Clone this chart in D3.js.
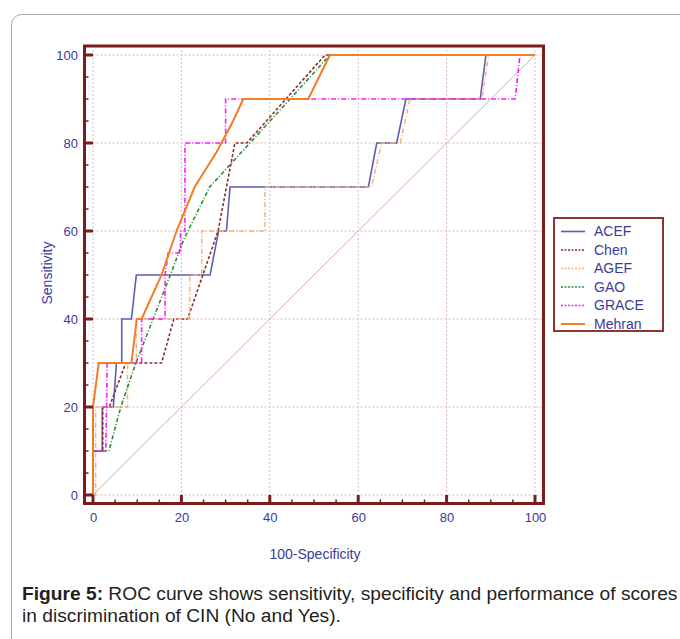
<!DOCTYPE html>
<html>
<head>
<meta charset="utf-8">
<script src="https://cdn.jsdelivr.net/npm/d3@7"></script>
<style>
  body { margin: 0; background: #fff; }
  svg { display: block; }
</style>
</head>
<body>
<div id="chart-container"></div>
<script>
// ROC curves, one array of [100-specificity, sensitivity] pairs per score
const acef   = [[0,0],[0,10],[2.1,10],[2.1,20],[4.6,20],[5.3,30],[6.5,30],[6.5,40],[8.7,40],[9.8,50],[26.5,50],[28.4,60],[30.2,60],[31,70],[62.3,70],[64.2,80],[68.7,80],[70.8,90],[87.6,90],[88.9,100],[100,100]];
const chen   = [[0,0],[0,10],[2.2,10],[2.2,20],[3.7,20],[7.4,30],[15.5,30],[18.3,40],[21.4,40],[28.3,60],[32.1,80],[34.8,80],[52.5,100],[100,100]];
const agef   = [[0,0],[0.6,0],[0.6,20],[7.8,20],[7.8,30],[9.8,30],[9.8,40],[21.9,40],[21.9,50],[24.6,50],[24.6,60],[38.9,60],[38.9,70],[63,70],[65.3,80],[69.5,80],[71.7,90],[88,90],[89.5,100],[100,100]];
const gao    = [[0,0],[0,10],[3.6,10],[6.3,20],[9.7,30],[13.6,40],[17.5,50],[20.5,58],[26.4,70],[35.5,80],[44.6,90],[53.6,100],[100,100]];
const grace  = [[0,0],[0,10],[2.9,10],[3.2,30],[11,30],[11,40],[16.3,40],[16.3,50],[17,55],[19.8,55],[19.8,60],[20.8,60],[20.8,80],[30,80],[30,90],[95.5,90],[96.6,100],[100,100]];
const mehran = [[0,0],[0,20],[1.3,30],[8.7,30],[9.9,40],[11,40],[15.5,50],[18.9,60],[23,70],[28,78],[31.7,85],[34,90],[48.7,90],[53.6,100],[100,100]];

const seriesNames = ["ACEF", "Chen", "AGEF", "GAO", "GRACE", "Mehran"];
const xTicks = [0, 20, 40, 60, 80, 100];
const yTicks = [0, 20, 40, 60, 80, 100];

// line look for each score
const styles = {
  ACEF:   { color: "#5c5fae", dash: null,      width: 1.6 },
  Chen:   { color: "#8a2c2c", dash: "3,2",     width: 1.6 },
  AGEF:   { color: "#f6b27e", dash: "5,2,1,2", width: 1.5 },
  GAO:    { color: "#2f8a36", dash: "4,2,1,2", width: 1.6 },
  GRACE:  { color: "#ff1aff", dash: "5,2,1,2", width: 1.6 },
  Mehran: { color: "#f27d25", dash: null,      width: 2 }
};
const curves = { ACEF: acef, Chen: chen, AGEF: agef, GAO: gao, GRACE: grace, Mehran: mehran };

const W = 680, H = 639;
const frameColor = "#7b1c1c";
const labelColor = "#3b3b98";

const svg = d3.select("#chart-container")
  .append("svg")
    .attr("width", W)
    .attr("height", H);

// card outline behind everything
svg.append("rect")
  .attr("x", 11.5).attr("y", 14.5)
  .attr("width", 700).attr("height", 700)
  .attr("rx", 10)
  .attr("fill", "none")
  .attr("stroke", "#a8a8a8")
  .attr("stroke-width", 1);

// scales
const x = d3.scaleLinear().domain([0, 100]).range([93, 535]);
const y = d3.scaleLinear().domain([0, 100]).range([495, 55]);

const frame = { left: 84.5, right: 543.5, top: 46, bottom: 503.5 };

// grid lines (dotted)
const grid = svg.append("g").attr("stroke", "#dcb8b8").attr("stroke-dasharray", "2,2").attr("stroke-width", 1);
grid.selectAll("line.gx").data(xTicks).join("line")
  .attr("x1", d => x(d)).attr("x2", d => x(d))
  .attr("y1", frame.top).attr("y2", frame.bottom);
grid.selectAll("line.gy").data(yTicks).join("line")
  .attr("y1", d => y(d)).attr("y2", d => y(d))
  .attr("x1", frame.left).attr("x2", frame.right);

// reference diagonal
svg.append("line")
  .attr("x1", x(0)).attr("y1", y(0))
  .attr("x2", x(100)).attr("y2", y(100))
  .attr("stroke", "#d3a9a9")
  .attr("stroke-width", 1);

// curves
const line = d3.line()
  .x(d => x(d[0]))
  .y(d => y(d[1]));

seriesNames.forEach(name => {
  const s = styles[name];
  svg.append("path")
    .datum(curves[name])
    .attr("fill", "none")
    .attr("stroke", s.color)
    .attr("stroke-width", s.width)
    .attr("stroke-dasharray", s.dash)
    .attr("d", line);
});

// frame
svg.append("rect")
  .attr("x", frame.left).attr("y", frame.top)
  .attr("width", frame.right - frame.left)
  .attr("height", frame.bottom - frame.top)
  .attr("fill", "none")
  .attr("stroke", frameColor)
  .attr("stroke-width", 3);

// inward ticks: minor every 5, major every 20
const minor = d3.range(0, 101, 5);
const tickG = svg.append("g").attr("stroke", frameColor);
tickG.selectAll("line.ty").data(minor).join("line")
  .attr("x1", frame.left)
  .attr("x2", d => frame.left + (d % 20 === 0 ? 8.5 : 4))
  .attr("y1", d => y(d)).attr("y2", d => y(d))
  .attr("stroke-width", d => d % 20 === 0 ? 3 : 1.5);
tickG.selectAll("line.tx").data(minor).join("line")
  .attr("y1", frame.bottom)
  .attr("y2", d => frame.bottom - (d % 20 === 0 ? 8.5 : 4))
  .attr("x1", d => x(d)).attr("x2", d => x(d))
  .attr("stroke-width", d => d % 20 === 0 ? 3 : 1.5);

// tick labels through d3 axes
const yAxis = svg.append("g")
  .attr("transform", `translate(${frame.left - 1.5},0)`)
  .call(d3.axisLeft(y).tickValues(yTicks).tickSize(0).tickPadding(5));
const xAxis = svg.append("g")
  .attr("transform", `translate(0,${frame.bottom + 1.5})`)
  .call(d3.axisBottom(x).tickValues(xTicks).tickSize(0).tickPadding(8));
[yAxis, xAxis].forEach(a => {
  a.select(".domain").remove();
  a.selectAll("text")
    .attr("fill", labelColor)
    .style("font-family", "Liberation Sans, Arial, sans-serif")
    .style("font-size", "13px");
});

// axis titles
svg.append("text")
  .attr("transform", "translate(52,273) rotate(-90)")
  .attr("text-anchor", "middle")
  .attr("fill", labelColor)
  .style("font-family", "Liberation Sans, Arial, sans-serif")
  .style("font-size", "14px")
  .text("Sensitivity");

svg.append("text")
  .attr("x", 315).attr("y", 559)
  .attr("text-anchor", "middle")
  .attr("fill", labelColor)
  .style("font-family", "Liberation Sans, Arial, sans-serif")
  .style("font-size", "14px")
  .text("100-Specificity");

// legend
const legend = svg.append("g");
legend.append("rect")
  .attr("x", 554).attr("y", 218)
  .attr("width", 109).attr("height", 113)
  .attr("fill", "#fff")
  .attr("stroke", "#8d3434")
  .attr("stroke-width", 2);

const rows = legend.selectAll("g.row").data(seriesNames).join("g")
  .attr("transform", (d, i) => `translate(0,${231.5 + i * 18.5})`);
rows.append("line")
  .attr("x1", 561).attr("x2", 585)
  .attr("stroke", d => styles[d].color)
  .attr("stroke-width", d => styles[d].width)
  .attr("stroke-dasharray", d => styles[d].dash ? "2,1.5" : null);
rows.append("text")
  .attr("x", 594).attr("dy", "0.35em")
  .attr("fill", labelColor)
  .style("font-family", "Liberation Sans, Arial, sans-serif")
  .style("font-size", "14px")
  .text(d => d);

// caption
const cap = svg.append("text")
  .attr("fill", "#231f20")
  .style("font-family", "Liberation Sans, Arial, sans-serif")
  .style("font-size", "19.2px");
const l1 = cap.append("tspan").attr("x", 22).attr("y", 600);
l1.append("tspan").style("font-weight", "bold").text("Figure 5:");
l1.append("tspan").text(" ROC curve shows sensitivity, specificity and performance of scores");
cap.append("tspan").attr("x", 22).attr("y", 622).text("in discrimination of CIN (No and Yes).");
</script>
</body>
</html>
